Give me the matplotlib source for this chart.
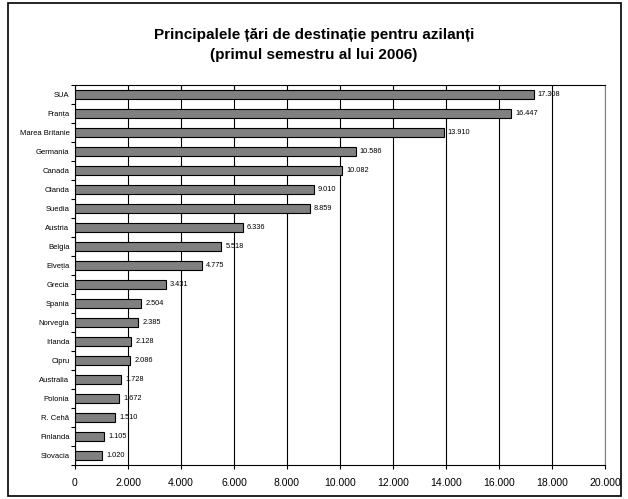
import matplotlib.pyplot as plt
from matplotlib.patches import Rectangle

plt.rcParams['font.family'] = ['Liberation Sans', 'DejaVu Sans']

tari = ['SUA', 'Franța', 'Marea Britanie', 'Germania', 'Canada', 'Olanda',
        'Suedia', 'Austria', 'Belgia', 'Elveția', 'Grecia', 'Spania',
        'Norvegia', 'Irlanda', 'Cipru', 'Australia', 'Polonia', 'R. Cehă',
        'Finlanda', 'Slovacia']
azilanti = [17308, 16447, 13910, 10586, 10082, 9010, 8859, 6336, 5518, 4775,
            3431, 2504, 2385, 2128, 2086, 1728, 1672, 1510, 1105, 1020]
x_ticks = list(range(0, 20001, 2000))


def fmt(v):
    return f"{v:,}".replace(',', '.')


fig = plt.figure(figsize=(6.28, 4.99), dpi=100)
fig.patches.append(Rectangle((8 / 628, 3 / 499), 613 / 628, 493 / 499,
                             transform=fig.transFigure, fill=False,
                             edgecolor='black', linewidth=1.2))

ax = fig.add_axes([75 / 628, 1 - 465 / 499, 530 / 628, 380 / 499])

pos = list(range(len(tari)))
ax.barh(pos, azilanti, height=0.5, color='#808080', edgecolor='black',
        linewidth=0.8, zorder=3)

for p, v in zip(pos, azilanti):
    ax.annotate(fmt(v), (v, p), xytext=(3, 0), textcoords='offset points',
                va='center', ha='left', fontsize=5.3)

ax.set_ylim(len(tari) - 0.5, -0.5)
ax.set_yticks(pos)
ax.set_yticklabels(tari, fontsize=5.5)
ax.set_yticks([i - 0.5 for i in range(len(tari) + 1)], minor=True)
ax.tick_params(axis='y', which='major', length=0, pad=4)
ax.tick_params(axis='y', which='minor', length=3, width=0.8, direction='out')

ax.set_xlim(0, 20000)
ax.set_xticks(x_ticks)
ax.set_xticklabels([fmt(t) for t in x_ticks], fontsize=7.5)
ax.tick_params(axis='x', length=3, width=0.8, direction='out', pad=6)
ax.grid(axis='x', color='black', linewidth=0.8, zorder=0)

for s in ax.spines.values():
    s.set_linewidth(0.8)
ax.spines['right'].set_color('#808080')

fig.text(0.5, 0.91, 'Principalele țări de destinație pentru azilanți\n(primul semestru al lui 2006)',
         ha='center', va='center', fontsize=11, fontweight='bold', linespacing=1.5)

fig.savefig('out.png', dpi=100)
